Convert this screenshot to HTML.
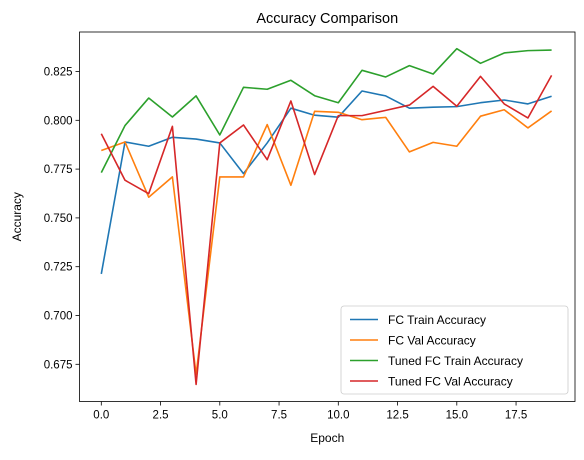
<!DOCTYPE html>
<html><head><meta charset="utf-8"><style>
body{margin:0;background:#fff;}
svg text{font-family:"Liberation Sans","DejaVu Sans",sans-serif;fill:#000;}
</style></head><body>
<svg id="chart" width="584" height="455" xmlns="http://www.w3.org/2000/svg"></svg>
<script>
const epochs=[0,1,2,3,4,5,6,7,8,9,10,11,12,13,14,15,16,17,18,19];
const fcTrain=[0.7213,0.7889,0.7867,0.7913,0.7904,0.7884,0.7727,0.7884,0.8062,0.8026,0.8016,0.815,0.8125,0.8062,0.8067,0.807,0.809,0.8104,0.8084,0.8123];
const fcVal=[0.7845,0.7889,0.7606,0.771,0.6698,0.771,0.771,0.7978,0.7667,0.8046,0.8041,0.8003,0.8015,0.7838,0.7887,0.7867,0.8021,0.8054,0.7961,0.8048];
const tunedTrain=[0.7732,0.7973,0.8114,0.8017,0.8125,0.7925,0.8169,0.8159,0.8205,0.8126,0.809,0.8256,0.8222,0.828,0.8237,0.8367,0.8292,0.8345,0.8357,0.836];
const tunedVal=[0.7931,0.7693,0.7624,0.7969,0.6647,0.7884,0.7976,0.7798,0.8099,0.7722,0.8024,0.8024,0.8051,0.8078,0.8174,0.8072,0.8225,0.8084,0.8012,0.823];
const xTicks=[0,2.5,5,7.5,10,12.5,15,17.5];
const xTickLabels=["0.0","2.5","5.0","7.5","10.0","12.5","15.0","17.5"];
const yTicks=[0.675,0.7,0.725,0.75,0.775,0.8,0.825];
const yTickLabels=["0.675","0.700","0.725","0.750","0.775","0.800","0.825"];
const seriesNames=["FC Train Accuracy","FC Val Accuracy","Tuned FC Train Accuracy","Tuned FC Val Accuracy"];
const colors=["#1f77b4","#ff7f0e","#2ca02c","#d62728"];

const NS="http://www.w3.org/2000/svg";
const svg=document.getElementById('chart');
const L=79.5,R=575,T=32,B=401.5;
const xs=v=>101.3+v*23.7;
const ys=v=>71.5+(0.825-v)/0.025*48.8;
function mk(tag,attrs,parent){const e=document.createElementNS(NS,tag);for(const k in attrs)e.setAttribute(k,attrs[k]);(parent||svg).appendChild(e);return e;}

const title=mk('text',{x:(L+R)/2,y:23,'text-anchor':'middle','font-size':14.5});
title.textContent='Accuracy Comparison';



xTicks.forEach((t,i)=>{
  const g=mk('g',{});
  
  
  mk('line',{x1:xs(t),x2:xs(t),y1:B,y2:B+4,stroke:'#000','stroke-width':0.8},g);
  const tx=mk('text',{x:xs(t),y:B+17,'text-anchor':'middle','font-size':11.5},g);
  tx.textContent=xTickLabels[i];
});
yTicks.forEach((t,i)=>{
  const g=mk('g',{});
  
  
  mk('line',{x1:L-4,x2:L,y1:ys(t),y2:ys(t),stroke:'#000','stroke-width':0.8},g);
  const tx=mk('text',{x:L-7,y:ys(t)+4,'text-anchor':'end','font-size':11.5},g);
  tx.textContent=yTickLabels[i];
});
const xl=mk('text',{x:(L+R)/2,y:442,'text-anchor':'middle','font-size':12});
xl.textContent='Epoch';


const yl=mk('text',{x:0,y:0,'text-anchor':'middle','font-size':12,transform:`translate(21,${(T+B)/2}) rotate(-90)`});
yl.textContent='Accuracy';



const allSeries=[fcTrain,fcVal,tunedTrain,tunedVal];
const seriesIds=['fc-train-line','fc-val-line','tuned-train-line','tuned-val-line'];
allSeries.forEach((s,i)=>{
  const p=mk('polyline',{points:s.map((v,j)=>xs(epochs[j])+','+ys(v)).join(' '),fill:'none',stroke:colors[i],'stroke-width':1.6,'stroke-linejoin':'round'});
  
  
});

const frame=mk('rect',{x:L,y:T,width:R-L,height:B-T,fill:'none',stroke:'#000','stroke-width':0.8});



const lg=mk('g',{});


mk('rect',{x:341,y:306,width:227,height:88,rx:3,fill:'#fff','fill-opacity':0.8,stroke:'#ccc','stroke-width':0.8},lg);
seriesNames.forEach((n,i)=>{
  const y=319.5+i*20.5;
  const e=mk('g',{},lg);
  
  
  mk('line',{x1:350,x2:378,y1:y,y2:y,stroke:colors[i],'stroke-width':1.6},e);
  const t=mk('text',{x:388,y:y+4.5,'font-size':12},e);
  t.textContent=n;
});
</script>
</body></html>
